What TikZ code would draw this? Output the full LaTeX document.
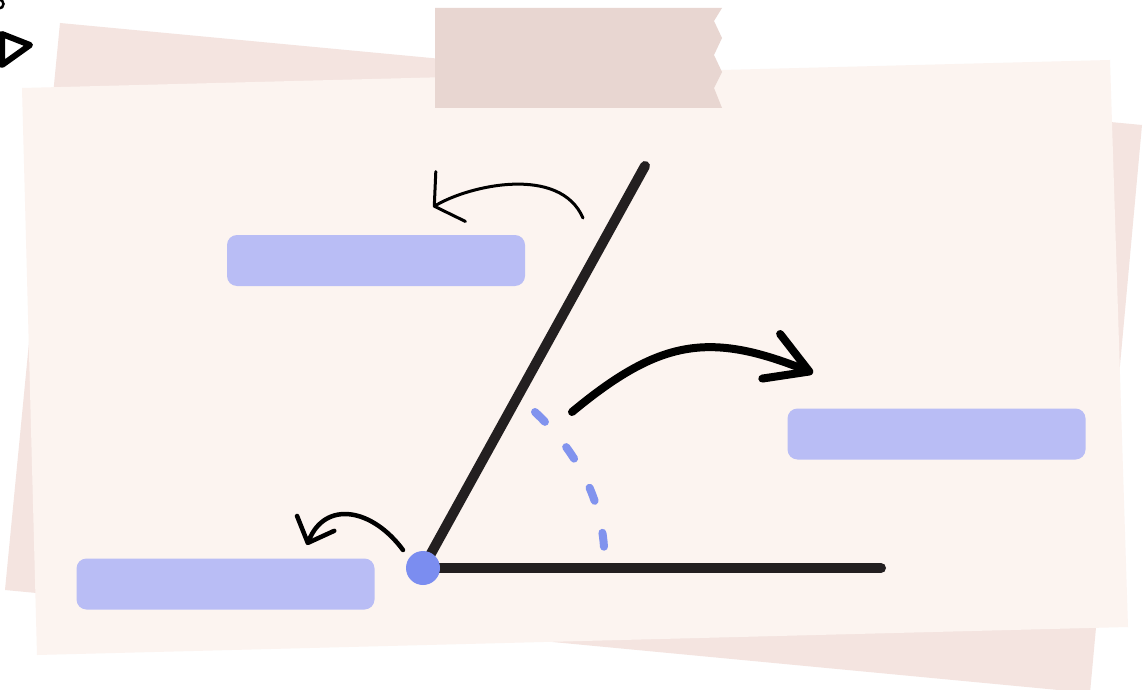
\documentclass[tikz,border=0pt]{standalone}
\usetikzlibrary{arrows.meta}
\definecolor{backsheet}{HTML}{F4E4E0}
\definecolor{frontsheet}{HTML}{FCF4F0}
\definecolor{tapecol}{HTML}{E8D6D1}
\definecolor{barcol}{HTML}{B9BDF5}
\definecolor{dotcol}{HTML}{7B8DF0}
\definecolor{dashcol}{HTML}{8193EE}
\definecolor{inkcol}{HTML}{231F20}
\begin{document}
\begin{tikzpicture}[x=1pt,y=-1pt,
  labelbar/.style={rectangle, rounded corners=10pt, fill=barcol, draw=none, inner sep=0pt, minimum width=298pt, minimum height=51pt},
  armline/.style={draw=inkcol, line width=10pt, line cap=round},
  dotstyle/.style={circle, fill=dotcol, draw=none, inner sep=0pt, minimum size=34pt},
  anglearc/.style={draw=dashcol, line width=8pt, line cap=round, dash pattern=on 14pt off 33pt},
  thinarrow/.style={draw=black, line width=3pt, line cap=round, -{Straight Barb[round,length=19pt,width=58pt]}},
  midarrow/.style={draw=black, line width=4.5pt, line cap=round, -{Straight Barb[round,length=21pt,width=40pt]}},
  thickarrow/.style={draw=black, line width=8pt, line cap=round, -{Straight Barb[round,length=41pt,width=48pt]}}
]
\useasboundingbox (0,0) rectangle (1144,690);
\clip (0,0) rectangle (1144,690);
\fill[white] (0,0) rectangle (1144,690);
% sheets
\fill[backsheet] (60,23) -- (1142,125) -- (1090,693) -- (5,590) -- cycle;
\fill[frontsheet] (22,88) -- (1110,60) -- (1128,627) -- (37,655) -- cycle;
% tape
\fill[tapecol] (435,8) -- (722,8) -- (714,21) -- (722,38) -- (714,55) -- (722,72) -- (714,88) -- (722,108) -- (435,108) -- cycle;
% corner marks
\draw[black, line width=6pt, line join=round] (2,34) -- (30,45) -- (2,65) -- cycle;
\draw[black, line width=2.5pt] (-1,4) circle (4.5);
% label bars
\node[labelbar] (bartop) at (376,260.5) {};
\node[labelbar] (barright) at (936.5,434) {};
\node[labelbar] (barleft) at (225.5,584) {};
% angle
\coordinate (vtx) at (423,568);
\coordinate (armend) at (881,568);
\coordinate (slantend) at (645,166);
\draw[armline] (vtx) -- (armend);
\draw[armline] (vtx) -- (slantend);
\coordinate (arcA) at (535,412);
\coordinate (arcB) at (604,547);
\draw[anglearc] (arcA) .. controls (570,445) and (600,490) .. (arcB);
\node[dotstyle] (vertex) at (vtx) {};
% arrows
\coordinate (a1s) at (583,218);
\coordinate (a1e) at (433,207);
\draw[thinarrow] (a1s) .. controls (560,165) and (470,185) .. (a1e);
\coordinate (a2s) at (572,412);
\coordinate (a2e) at (813,373);
\draw[thickarrow] (a2s) .. controls (660,339) and (709.5,331.6) .. (a2e);
\coordinate (a3s) at (403,550);
\coordinate (a3e) at (307,545);
\draw[midarrow] (a3s) .. controls (372,508) and (325,500) .. (a3e);
\end{tikzpicture}
\end{document}
